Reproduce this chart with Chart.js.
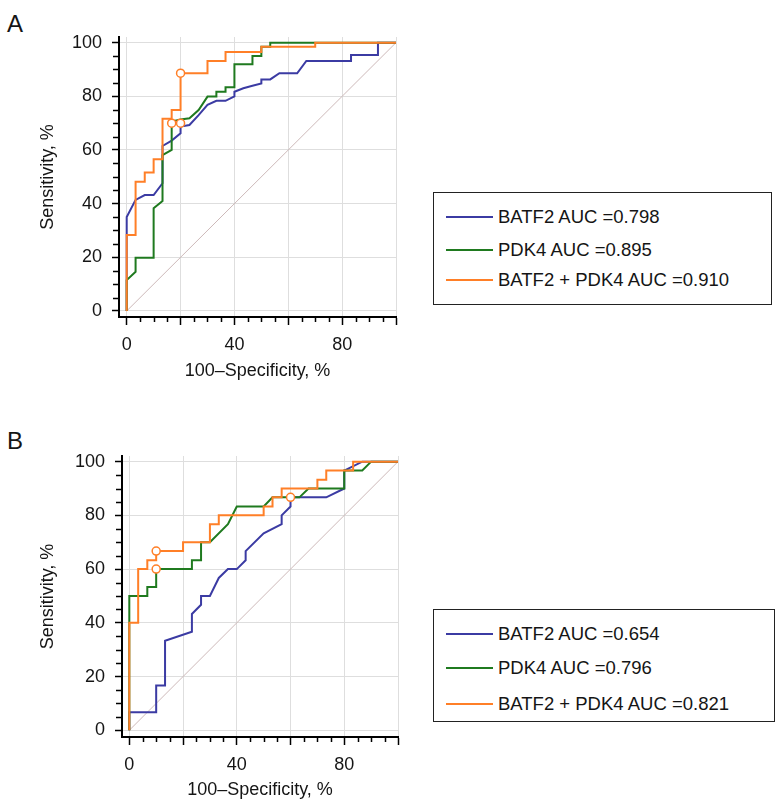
<!DOCTYPE html>
<html>
<head>
<meta charset="utf-8">
<script src="https://cdn.jsdelivr.net/npm/chart.js@4.4.1/dist/chart.umd.min.js"></script>
<style>
  html, body { margin: 0; padding: 0; background: #fff; overflow: hidden; }
  body { width: 777px; height: 805px; position: relative; font-family: "Liberation Sans", Arial, sans-serif; color: #151515; }
  .panel-label { position: absolute; left: 7px; font-size: 24px; line-height: 24px; }
  canvas { position: absolute; left: 0; }
  .legend { position: absolute; border: 1.5px solid #222; box-sizing: border-box; }
  .legend-row { position: absolute; left: 12px; height: 24px; display: flex; align-items: center; font-size: 18.5px; white-space: nowrap; }
  .swatch { display: inline-block; width: 47px; height: 2px; margin-right: 5px; }
</style>
</head>
<body>
<div class="panel-label" style="top:12px">A</div>
<div class="panel-label" style="top:429px">B</div>
<canvas id="rocA" width="420" height="400" style="top:0"></canvas>
<canvas id="rocB" width="420" height="385" style="top:420px"></canvas>
<div class="legend" id="legendA" style="left:433px;top:192px;width:339px;height:113px"></div>
<div class="legend" id="legendB" style="left:433px;top:609px;width:342px;height:113px"></div>

<script>
// series names, colours and AUC values
const seriesNames = ['BATF2', 'PDK4', 'BATF2 + PDK4'];
const seriesColors = ['#3b3ba3', '#1f7a1f', '#ff7f27'];
const aucA = ['0.798', '0.895', '0.910'];
const aucB = ['0.654', '0.796', '0.821'];

const xTicks = [0, 20, 40, 60, 80, 100];
const yTicks = [0, 20, 40, 60, 80, 100];
const minorStep = 5;

// ROC points as [100-specificity, sensitivity]
const batf2A = [[0,0],[0,35],[3.3,41.4],[6.7,43.2],[10,43.2],[13.3,47.6],[13.3,61.5],[16.7,63.5],[20,66.2],[20,68.7],[23.3,69.3],[26.7,73],[30,76.8],[33.3,78.3],[36.7,78.3],[40,80],[40,81.7],[43.3,83],[46.7,83.9],[50,84.8],[50,86.3],[53.3,86.3],[56.7,88.6],[63.3,88.6],[66.7,93.2],[83.3,93.2],[83.3,95.4],[93.3,95.4],[93.3,100],[100,100]];
const pdk4A = [[0,0],[0,11.5],[3.3,14.6],[3.3,19.8],[10,19.8],[10,38.3],[13.3,41],[13.3,58.1],[16.7,60],[16.7,70.6],[20,71.4],[23.3,71.8],[26.7,74.9],[30,79.9],[33.3,79.9],[33.3,81.7],[36.7,81.7],[36.7,83.4],[40,83.4],[40,91.9],[46.7,91.9],[46.7,95],[50,95],[50,98.5],[53.3,98.5],[53.3,100],[100,100]];
const comboA = [[0,0],[0,28.3],[3.3,28.3],[3.3,48.2],[6.7,48.2],[6.7,51.6],[10,51.6],[10,56.5],[13.3,56.5],[13.3,71.6],[16.7,71.6],[16.7,74.9],[20,74.9],[20,88.6],[30,88.6],[30,93.2],[36.7,93.2],[36.7,96.5],[50,96.5],[50,98.5],[70,98.5],[70,100],[100,100]];
const cutoffsA = [[16.7,70],[20,70],[20,88.6]];

const batf2B = [[0,0],[0,6.7],[10,6.7],[10,16.7],[13.3,16.7],[13.3,33.3],[23.3,36.7],[23.3,43.3],[26.7,46.7],[26.7,50],[30,50],[33.3,56.7],[36.7,60],[40,60],[43.3,63.3],[43.3,66.7],[50,73.3],[56.7,76.7],[56.7,80],[60,83.3],[60,86.7],[73.3,86.7],[80,90],[80,96.7],[86.7,100],[100,100]];
const pdk4B = [[0,0],[0,50],[6.7,50],[6.7,53.3],[10,53.3],[10,60],[23.3,60],[23.3,63.3],[26.7,63.3],[26.7,70],[30,70],[36.7,76.7],[40,83.3],[50,83.3],[53.3,86.7],[63.3,86.7],[66.7,90],[80,90],[80,96.7],[86.7,96.7],[90,100],[100,100]];
const comboB = [[0,0],[0,40],[3.3,40],[3.3,60],[6.7,60],[6.7,63.3],[10,63.3],[10,66.7],[20,66.7],[20,70],[30,70],[30,76.7],[33.3,76.7],[33.3,80],[50,80],[50,83.3],[53.3,83.3],[53.3,86.7],[56.7,86.7],[56.7,90],[70,90],[70,93.3],[73.3,93.3],[73.3,96.7],[83.3,96.7],[83.3,100],[100,100]];
const cutoffsB = [[10,66.7],[10,60],[60,86.7]];

const diagonal = [[0,0],[100,100]];

const toXY = pts => pts.map(p => ({ x: p[0], y: p[1] }));

// short minor tick marks every 5 units on both axes
const minorTicks = {
    id: 'minorTicks',
    afterDraw(chart) {
        const { ctx, chartArea, scales: { x, y } } = chart;
        ctx.save();
        ctx.strokeStyle = '#000';
        ctx.lineWidth = 1.5;
        ctx.beginPath();
        for (let v = minorStep; v < 100; v += minorStep) {
            if (v % 20 === 0) continue;
            const px = Math.round(x.getPixelForValue(v)) + 0.5;
            ctx.moveTo(px, chartArea.bottom + 1);
            ctx.lineTo(px, chartArea.bottom + 5);
            const py = Math.round(y.getPixelForValue(v)) + 0.5;
            ctx.moveTo(chartArea.left - 6, py);
            ctx.lineTo(chartArea.left - 1, py);
        }
        ctx.stroke();
        ctx.restore();
    }
};

function createRocChart(canvasId, curves, cutoffs, g) {
    const datasets = curves.map((pts, i) => ({
        data: toXY(pts),
        showLine: true,
        borderColor: seriesColors[i],
        borderWidth: 2,
        pointRadius: 0,
        tension: 0,
        order: 3 - i
    }));
    datasets.push({
        data: toXY(diagonal),
        showLine: true,
        borderColor: '#cdb9b9',
        borderWidth: 1,
        pointRadius: 0,
        order: 5
    });
    datasets.push({
        data: toXY(cutoffs),
        showLine: false,
        pointRadius: 4,
        pointBackgroundColor: '#fff',
        pointBorderColor: seriesColors[2],
        pointBorderWidth: 1.5,
        order: 0
    });

    return new Chart(document.getElementById(canvasId), {
        type: 'scatter',
        data: { datasets },
        plugins: [minorTicks],
        options: {
            responsive: false,
            animation: false,
            events: [],
            layout: { padding: { left: 0, top: g.top, right: g.right, bottom: 0 } },
            plugins: { legend: { display: false }, tooltip: { enabled: false } },
            scales: {
                x: {
                    type: 'linear',
                    min: g.xMin,
                    max: 100,
                    afterBuildTicks: s => { s.ticks = xTicks.map(v => ({ value: v })); },
                    afterFit: s => { s.height = g.xHeight; },
                    ticks: { padding: 9, color: '#151515', font: { size: 18 }, autoSkip: false, maxRotation: 0,
                        callback: v => (v % 40 === 0 ? v : '') },
                    grid: { color: '#dedede', lineWidth: 1, tickColor: '#000', tickLength: 8, tickWidth: 1.5 },
                    border: { color: '#000', width: 2 },
                    title: { display: true, text: '100–Specificity, %', color: '#151515', font: { size: 18 },
                        padding: { top: 0, bottom: g.xTitlePad } }
                },
                y: {
                    type: 'linear',
                    min: g.yMin,
                    max: g.yMax,
                    afterBuildTicks: s => { s.ticks = yTicks.map(v => ({ value: v })); },
                    afterFit: s => { s.width = g.yWidth; },
                    ticks: { padding: 10, color: '#151515', font: { size: 18 }, autoSkip: false },
                    grid: { color: '#dedede', lineWidth: 1, tickColor: '#000', tickLength: 7, tickWidth: 1.5 },
                    border: { color: '#000', width: 2 },
                    title: { display: true, text: 'Sensitivity, %', color: '#151515', font: { size: 18 },
                        padding: { top: 37, bottom: 0 } }
                }
            }
        }
    });
}

function buildLegend(boxId, aucs, rowCenters) {
    const box = document.getElementById(boxId);
    seriesNames.forEach((name, i) => {
        const row = document.createElement('div');
        row.className = 'legend-row';
        row.style.top = (rowCenters[i] - 12) + 'px';
        const sw = document.createElement('span');
        sw.className = 'swatch';
        sw.style.background = seriesColors[i];
        row.appendChild(sw);
        row.appendChild(document.createTextNode(name + ' AUC =' + aucs[i]));
        box.appendChild(row);
    });
}

createRocChart('rocA', [batf2A, pdk4A, comboA], cutoffsA,
    { top: 37, right: 24, xHeight: 83, yWidth: 119, xMin: -2.86, yMin: -2.24, yMax: 102.1, xTitlePad: 18 });
createRocChart('rocB', [batf2B, pdk4B, comboB], cutoffsB,
    { top: 36, right: 22, xHeight: 68, yWidth: 122, xMin: -2.72, yMin: -2.5, yMax: 102.1, xTitlePad: 4 });

buildLegend('legendA', aucA, [24, 57, 87]);
buildLegend('legendB', aucB, [24, 58, 94]);
</script>
</body>
</html>
